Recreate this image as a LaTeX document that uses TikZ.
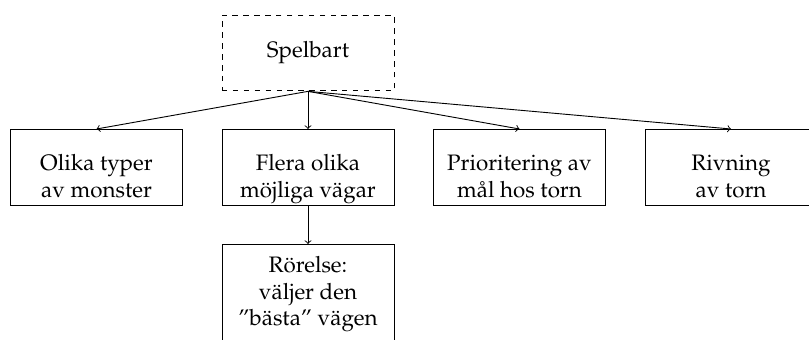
\documentclass[tikz,border=0pt]{standalone}
\usepackage[T1]{fontenc}
\usepackage{mathpazo}
\begin{document}
\begin{tikzpicture}[x=0.55pt,y=-0.55pt,
  font=\fontsize{12.3}{14.6}\selectfont, line width=0.5pt,
  box/.style={draw, align=center, anchor=north, minimum width=94.6pt, inner ysep=0pt,
    text height=37.2pt, text depth=4.6pt},
  link/.style={->}]
\clip (0,0) rectangle (809,340);
\node[box, dashed, text height=23.1pt, text depth=18.4pt] (sp) at (308,15) {Spelbart};
\node[box] (a) at (96.5,129) {Olika typer\\av monster};
\node[box] (b) at (308,129) {Flera olika\\m\"ojliga v\"agar};
\node[box] (c) at (519.5,129) {Prioritering av\\m\aa l hos torn};
\node[box] (d) at (731,129) {Rivning\\av torn};
\node[box, text height=44.6pt, text depth=40pt] (e) at (308,244) {R\"orelse:\\v\"aljer den\\''b\"asta'' v\"agen};
\draw[link] (sp.south) -- (a.north);
\draw[link] (sp.south) -- (b.north);
\draw[link] (sp.south) -- (c.north);
\draw[link] (sp.south) -- (d.north);
\draw[link] (b.south) -- (e.north);
\end{tikzpicture}
\end{document}
